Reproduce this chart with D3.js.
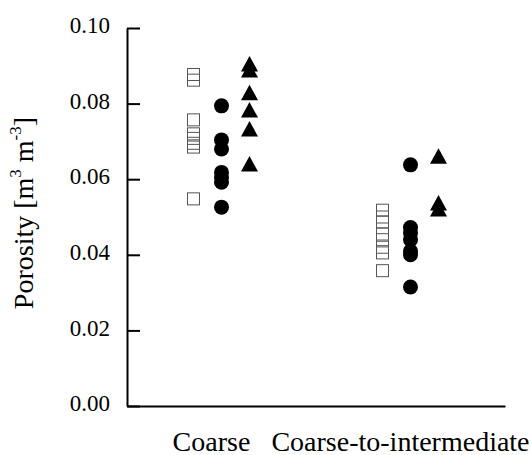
<!DOCTYPE html>
<html>
<head>
<meta charset="utf-8">
<script src="https://cdn.jsdelivr.net/npm/d3@7"></script>
<style>
  html, body { margin: 0; padding: 0; background: #fff; }
  #chart { position: relative; width: 532px; height: 455px; }
  #chart svg { position: absolute; left: 0; top: 0; }
  .lbl { position: absolute; white-space: nowrap; line-height: 1; color: #000;
         font-family: "Liberation Serif", "Times New Roman", serif; }
  .sup { position: relative; font-size: 17px; top: -12px; }
</style>
</head>
<body>
<div id="chart"></div>
<script>
const categories = ['Coarse', 'Coarse-to-intermediate'];
const yTicks = [0, 0.02, 0.04, 0.06, 0.08, 0.10];

// open squares, filled circles, filled triangles per texture class
const squaresCoarse = [0.0877, 0.0862, 0.0757, 0.0720, 0.0708, 0.0695, 0.0685, 0.0548];
const squaresCTI    = [0.0518, 0.0500, 0.0487, 0.0455, 0.0440, 0.0420, 0.0405, 0.0358];
const circlesCoarse = [0.0794, 0.0704, 0.0680, 0.0618, 0.0605, 0.0592, 0.0526];
const circlesCTI    = [0.0638, 0.0472, 0.0458, 0.0440, 0.0410, 0.0400, 0.0315];
const trianglesCoarse = [0.0905, 0.0889, 0.0829, 0.0783, 0.0733, 0.0640];
const trianglesCTI    = [0.0661, 0.0537, 0.0521];

const series = [
  { key: 'square',   offset: -28, values: [squaresCoarse, squaresCTI] },
  { key: 'circle',   offset: 0,   values: [circlesCoarse, circlesCTI] },
  { key: 'triangle', offset: 28,  values: [trianglesCoarse, trianglesCTI] }
];

const points = series.flatMap(s =>
  s.values.flatMap((vals, i) => vals.map(v => ({ shape: s.key, offset: s.offset, cat: categories[i], value: v }))));

const width = 532, height = 455;
const margin = { top: 28, right: 27, bottom: 49, left: 127 };
const w = width - margin.left - margin.right;
const h = height - margin.top - margin.bottom;

const chart = d3.select('#chart');
const svg = chart.append('svg').attr('width', width).attr('height', height);
const g = svg.append('g').attr('transform', `translate(${margin.left},${margin.top})`);

const x = d3.scalePoint().domain(categories).range([0, w]).padding(0.5);
const y = d3.scaleLinear().domain([0, 0.10]).range([h, 0]);

// y axis with inward ticks (labels drawn as html text below)
const yAxis = g.append('g')
  .call(d3.axisLeft(y).tickValues(yTicks).tickSize(-13).tickSizeOuter(0).tickFormat(''));
yAxis.selectAll('path, line').attr('stroke', '#000').attr('stroke-width', 2);

// x axis: plain line
const xAxis = g.append('g').attr('transform', `translate(0,${h})`)
  .call(d3.axisBottom(x).tickSize(0).tickSizeOuter(0).tickFormat(''));
xAxis.select('.domain').attr('stroke', '#000').attr('stroke-width', 2);

// tick labels
const fmt = d3.format('.2f');
chart.selectAll('div.ytick').data(yTicks).join('div')
  .attr('class', 'lbl ytick')
  .style('font-size', '23px')
  .style('right', `${width - margin.left + 17}px`)
  .style('top', d => `${margin.top + y(d) - 0.51 * 23 - 2}px`)
  .text(fmt);

chart.selectAll('div.xcat').data(categories).join('div')
  .attr('class', 'lbl xcat')
  .style('font-size', '28px')
  .style('left', d => `${margin.left + x(d) - 10}px`)
  .style('top', `${451 - 0.8375 * 28}px`)
  .style('transform', 'translateX(-50%)')
  .text(d => d);

// y label
chart.append('div').attr('class', 'lbl')
  .style('font-size', '28px')
  .style('left', '24px').style('top', `${margin.top + y(0.05) - 4}px`)
  .style('transform', 'translate(-50%,-50%) rotate(-90deg)')
  .html('Porosity [m<span class="sup">3</span> m<span class="sup">-3</span>]');

// markers
const px = d => x(d.cat) + d.offset;
const marks = g.append('g');

marks.selectAll('rect').data(points.filter(d => d.shape === 'square')).join('rect')
  .attr('x', d => px(d) - 6).attr('y', d => y(d.value) - 6)
  .attr('width', 12).attr('height', 12)
  .attr('fill', 'none').attr('stroke', '#555').attr('stroke-width', 1);

marks.selectAll('circle').data(points.filter(d => d.shape === 'circle')).join('circle')
  .attr('cx', px).attr('cy', d => y(d.value)).attr('r', 7.5).attr('fill', '#000');

marks.selectAll('path.tri').data(points.filter(d => d.shape === 'triangle')).join('path')
  .attr('class', 'tri')
  .attr('d', d => {
    const cx = px(d), cy = y(d.value);
    return `M${cx},${cy - 8}L${cx + 8.5},${cy + 7.5}L${cx - 8.5},${cy + 7.5}Z`;
  })
  .attr('fill', '#000');
</script>
</body>
</html>
